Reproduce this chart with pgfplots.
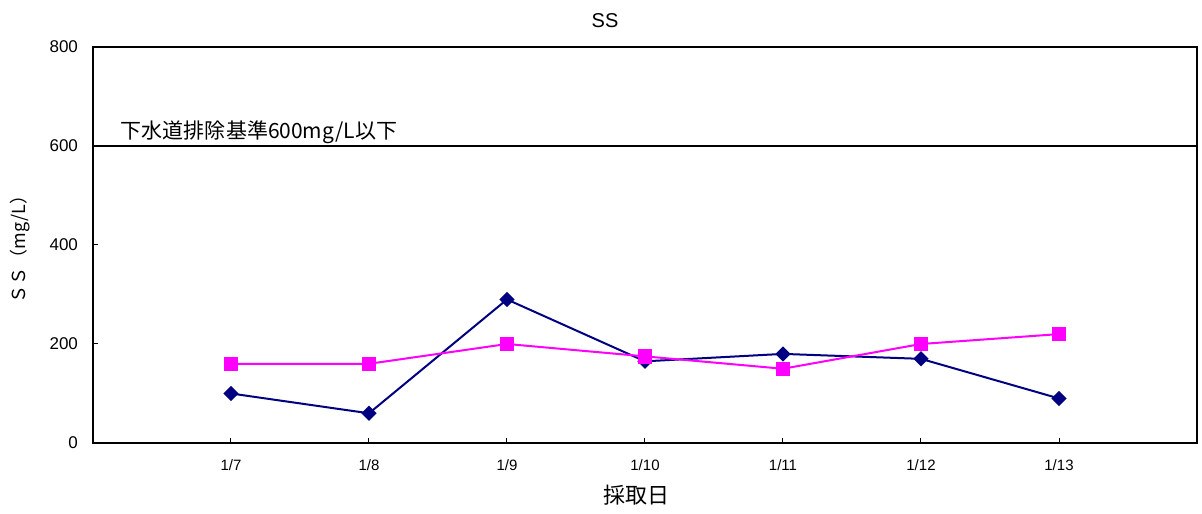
\documentclass[border=0pt]{standalone}
\usepackage{pgfplots}
\pgfplotsset{compat=1.18}
\usepackage{fontspec}
\setmainfont{Liberation Sans}
\newfontfamily\jp{Noto Sans CJK JP}
\definecolor{navyline}{HTML}{000080}
\definecolor{pinkline}{HTML}{FF00FF}

\begin{document}
\begin{tikzpicture}
\begin{axis}[
  scale only axis,
  width=552pt, height=198pt,
  xmin=-1, xmax=7,
  ymin=0, ymax=800,
  xtick={0,...,6},
  xticklabels={1/7,1/8,1/9,1/10,1/11,1/12,1/13},
  ytick={0,200,...,800},
  tick align=inside,
  xtick pos=bottom, ytick pos=left,
  major tick length=2.5pt,
  axis line style={line width=1pt},
  tick style={black, line width=0.5pt},
  /pgf/number format/assume math mode=true,
  yticklabel style={font=\fontsize{8.5}{10}\selectfont, xshift=-4pt},
  xticklabel style={font=\fontsize{7.5}{8}\selectfont, yshift=-5pt},
  ylabel={\jp\fontsize{9}{10}\selectfont ＳＳ（mg/L）},
  ylabel style={yshift=3pt},
  xlabel={\jp\fontsize{11}{12}\selectfont 採取日},
  xlabel style={xshift=-4pt, yshift=0pt},
  clip=false,
]
\addplot[black, line width=1pt] coordinates {(-1,600) (7,600)};
\node[anchor=south west, inner sep=0pt, font=\jp\fontsize{10.5}{12}\selectfont] at (axis cs:-0.8,604) {下水道排除基準600mg/L以下};
\addplot[navyline, line width=1pt, mark=square*, mark size=2.2pt, mark options={solid, rotate=45, fill=navyline}]
  coordinates {(0,100) (1,60) (2,290) (3,165) (4,180) (5,170) (6,90)};
\addplot[pinkline, line width=1pt, mark=square*, mark size=3.1pt, mark options={solid, fill=pinkline}]
  coordinates {(0,160) (1,160) (2,200) (3,175) (4,150) (5,200) (6,220)};
\end{axis}
\node[font=\fontsize{10}{12}\selectfont] at (256pt,211pt) {SS};
\useasboundingbox (-46.5pt,-35pt) rectangle (554.5pt,221.5pt);
\end{tikzpicture}
\end{document}
